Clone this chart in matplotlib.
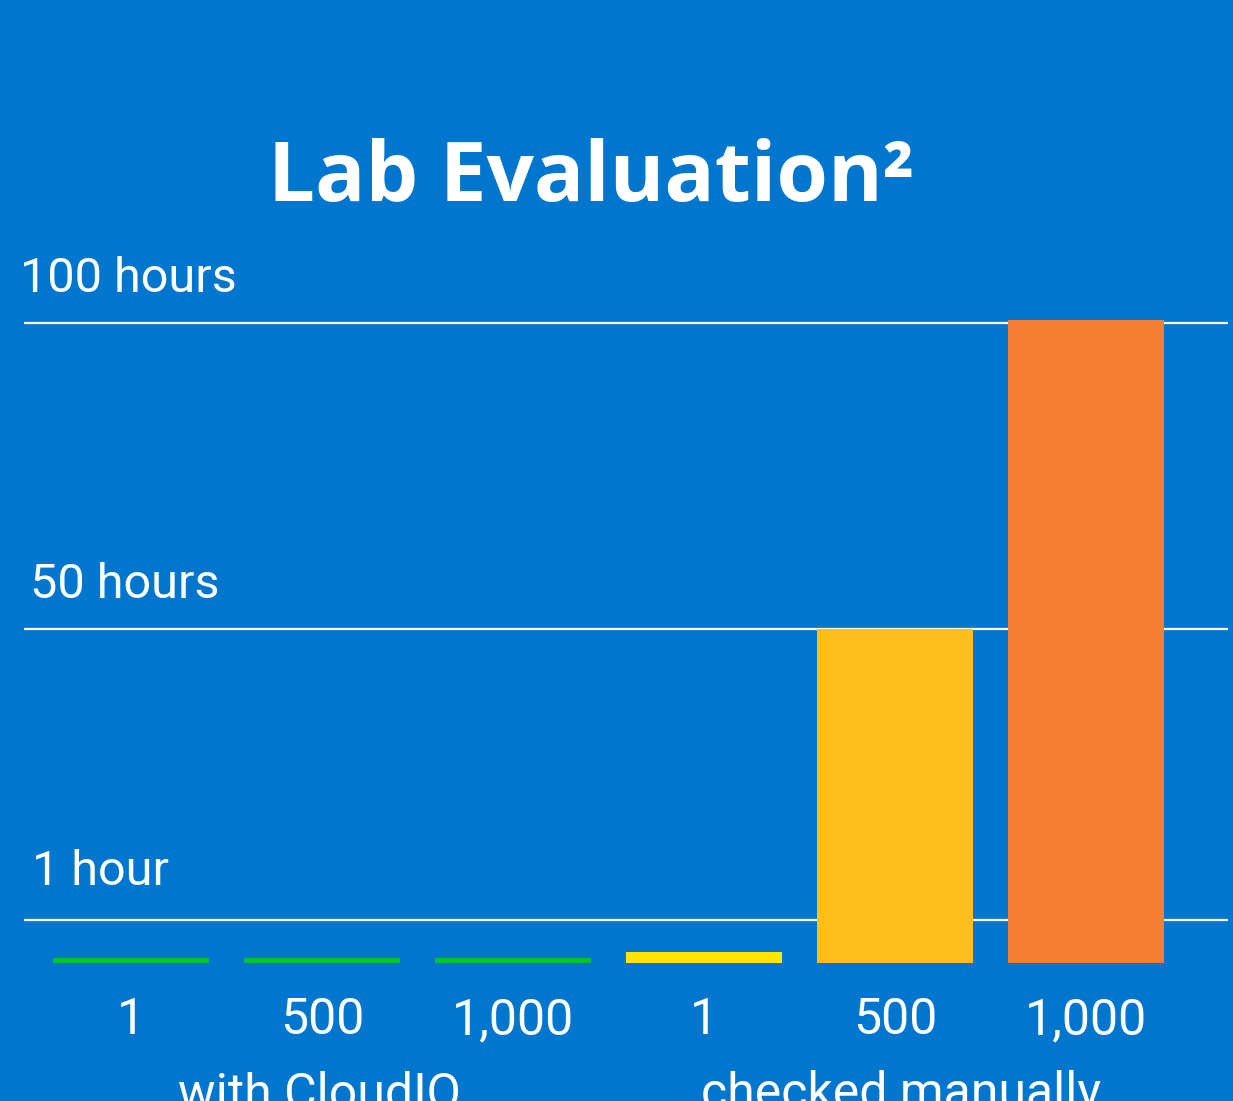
import numpy as np
import matplotlib.pyplot as plt

# Data
#--------------------------------------------------------------------
tick_labels = ["1", "500", "1,000", "1", "500", "1,000"]
groups = ["with CloudIQ", "checked manually"]
hours = [0.12, 0.12, 0.12, 0.26, 50, 100.5]
colors = ["#00C23C", "#00C23C", "#00C23C", "#FFE600", "#FEBE1B", "#F47E32"]
ref_hours = [100, 50, 1]
ref_labels = ["100 hours", "50 hours", "1 hour"]

# Stylised vertical axis: hours -> drawing units (piecewise, as in the original)
scale_h = [0, 1, 50, 100, 200]
scale_u = [0, 43, 334, 640, 1252]
def fwd(v):
    return np.interp(v, scale_h, scale_u)
def inv(u):
    return np.interp(u, scale_u, scale_h)

W, H = 1233, 1101
bg = "#0076CE"
fig = plt.figure(figsize=(W / 100, H / 100), dpi=100, facecolor=bg)
plt.rcParams['font.family'] = ['Roboto', 'DejaVu Sans']

# axes: left 24px, right 1228px, bottom 963px, top 290px
ax = fig.add_axes([24 / W, 1 - 963 / H, (1228 - 24) / W, (963 - 290) / H])
ax.set_facecolor(bg)
ax.set_yscale('function', functions=(fwd, inv))
ax.set_ylim(0, inv(963 - 290))
x = np.arange(len(hours))
ax.set_xlim(-0.56, 5.743)

for h in ref_hours:
    ax.axhline(h, color="white", lw=1.6, zorder=1)
ax.bar(x, hours, width=0.82, color=colors, zorder=2)

for s in ax.spines.values():
    s.set_visible(False)
ax.set_yticks([])
ax.set_xticks(x)
ax.set_xticklabels(tick_labels, color="white", fontsize=36)
ax.tick_params(axis='x', length=0, pad=24)

offs = [(-3, 22), (4, 22), (6, 25)]
for h, lab, (dx, dy) in zip(ref_hours, ref_labels, offs):
    ax.annotate(lab, xy=(0, h), xycoords=('axes fraction', 'data'), xytext=(dx, dy),
                textcoords='offset points', va='baseline', ha='left',
                color="white", fontsize=35)

# group labels (cut at the bottom edge, as in the original)
fig.text(320 / W, 1 - 1108 / H, groups[0], ha='center', va='baseline',
         color="white", fontsize=36)
fig.text(901 / W, 1 - 1108 / H, groups[1], ha='center', va='baseline',
         color="white", fontsize=36)

# title
fig.text(591 / W, 1 - 201 / H, "Lab Evaluation²", ha='center', va='baseline',
         color="white", fontsize=60, fontweight="bold", family=['Open Sans', 'DejaVu Sans'])

plt.savefig("out.png", dpi=100, facecolor=bg)
